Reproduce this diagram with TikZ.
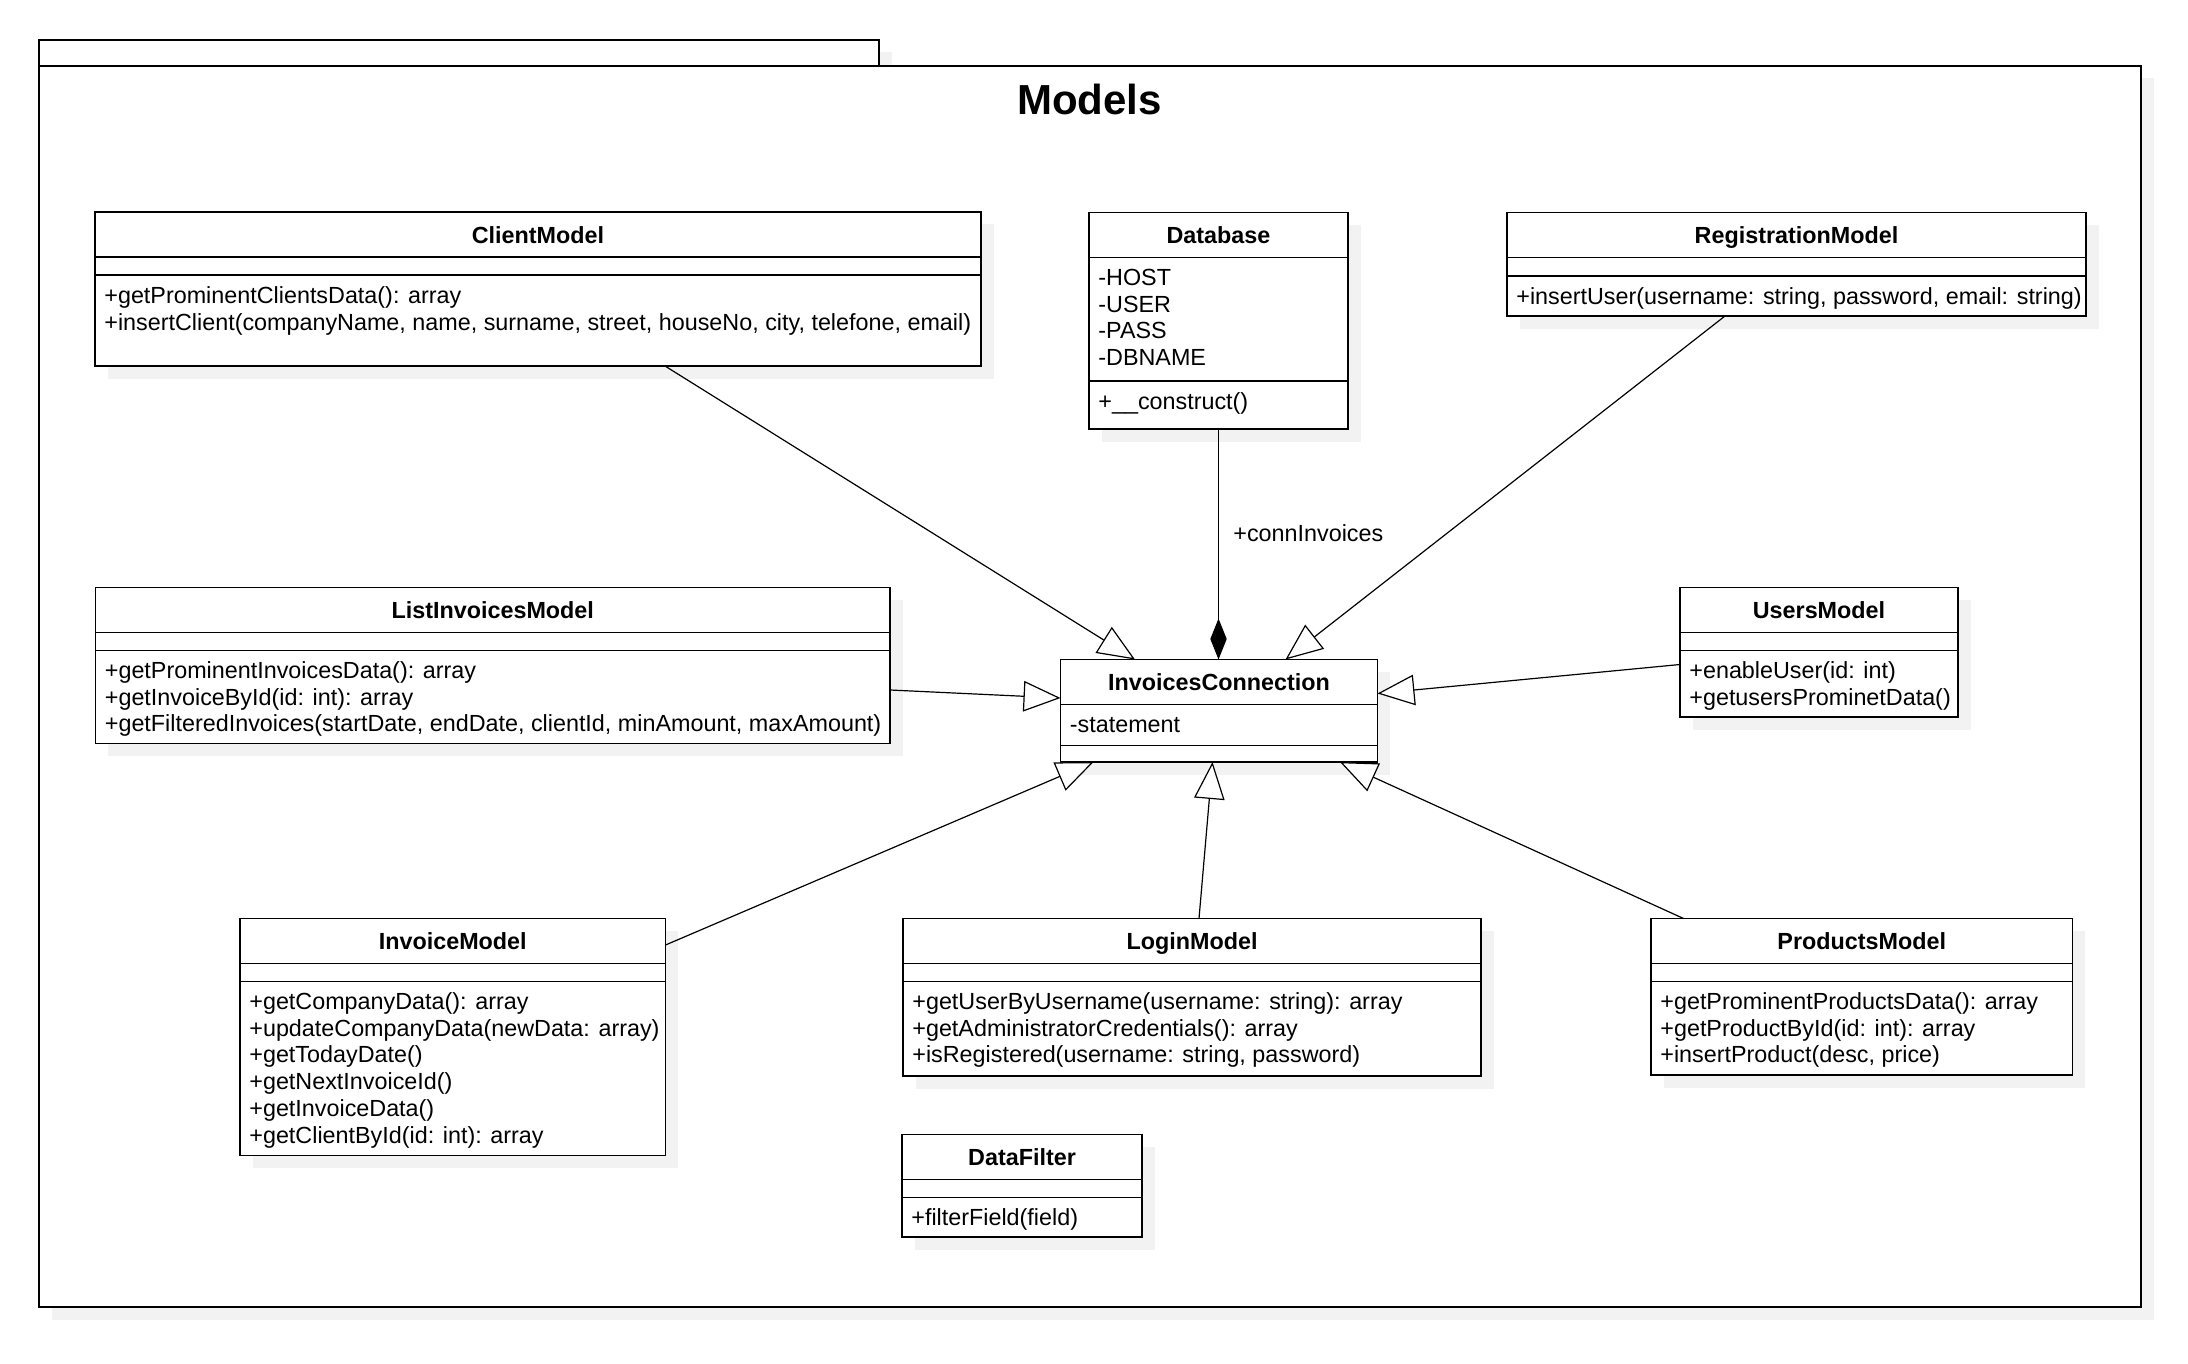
\documentclass[tikz,border=0pt]{standalone}
\usepackage{fontspec}
\setmainfont{Liberation Sans}
\usetikzlibrary{arrows.meta,calc}
\definecolor{shadowgray}{RGB}{242,242,242}

\tikzset{
  frame/.style={draw=black, line width=0.8pt, fill=white, inner sep=0pt, outer sep=0pt, anchor=north west},
  sepline/.style={draw=black, line width=0.8pt},
  cshadow/.style={fill=shadowgray, draw=none},
  ctitle/.style={anchor=base, inner sep=0pt, font=\fontsize{11.67pt}{13.35pt}\selectfont\bfseries},
  cbody/.style={anchor=base west, inner sep=0pt, font=\fontsize{11.67pt}{13.35pt}\selectfont},
  pkgtitle/.style={anchor=base, inner sep=0pt, font=\fontsize{21pt}{25pt}\selectfont\bfseries},
  gen/.style={draw=black, line width=0.6pt, -{Triangle[length=18.5pt, width=15.25pt, fill=white]}},
  comp/.style={draw=black, line width=0.6pt, -{Diamond[length=20.5pt, width=8.2pt]}},
}

% class box: name, x, y, width, height, title, offset of second separator
\newcommand\umlclass[7]{%
  \fill[cshadow] (#2+12.5,#3+12.5) rectangle (#2+#4+12.5,#3+#5+12.5);
  \node[frame, minimum width=#4*0.5pt, minimum height=#5*0.5pt] (#1) at (#2,#3) {};
  \draw[sepline] (#2,#3+45) -- (#2+#4,#3+45);
  \draw[sepline] (#2,#3+#7) -- (#2+#4,#3+#7);
  \node[ctitle] (#1-title) at (#2+#4/2,#3+31) {#6};
}

% member lines: name prefix, box x, first baseline y, list of lines
\newcommand\umllines[4]{%
  \foreach \lineitem [count=\k from 0] in {#4} {
    \node[cbody] (#1\k) at (#2+9,#3+26.7*\k) {\lineitem};
  }
}

\begin{document}
\begin{tikzpicture}[x=0.5pt, y=-0.5pt]
\useasboundingbox (0,0) rectangle (2188,1364);

% package frame with its tab
\fill[cshadow] (51.5,52.5) rectangle (891.5,78.5);
\fill[cshadow] (51.5,78.5) rectangle (2153.5,1319.5);
\node[frame, minimum width=840*0.5pt, minimum height=26*0.5pt] (pkgtab) at (39,40) {};
\node[frame, minimum width=2102*0.5pt, minimum height=1241*0.5pt] (pkg) at (39,66) {};
\node[pkgtitle] (pkgname) at (1089.5,115) {Models};

% classes
\umlclass{cm}{95}{212}{886}{154}{ClientModel}{63}
\umllines{cm-m}{95}{303.5}{{+getProminentClientsData(): array},{+insertClient(companyName, name, surname, street, houseNo, city, telefone, email)}}

\umlclass{db}{1089}{212.5}{259}{216.5}{Database}{168.5}
\umllines{db-a}{1089}{285.5}{{-HOST},{-USER},{-PASS},{-DBNAME}}
\umllines{db-m}{1089}{409}{{+\_\_construct()}}

\umlclass{rm}{1507}{212.5}{579}{103.5}{RegistrationModel}{63.5}
\umllines{rm-m}{1507}{304.5}{{+insertUser(username: string, password, email: string)}}

\umlclass{lim}{95.5}{587.5}{794.5}{156}{ListInvoicesModel}{63}
\umllines{lim-m}{95.5}{678.5}{{+getProminentInvoicesData(): array},{+getInvoiceById(id: int): array},{+getFilteredInvoices(startDate, endDate, clientId, minAmount, maxAmount)}}

\umlclass{ic}{1060.5}{659.5}{317}{102.5}{InvoicesConnection}{86}
\umllines{ic-a}{1060.5}{732.5}{{-statement}}

\umlclass{um}{1680}{587.5}{278}{129.5}{UsersModel}{63}
\umllines{um-m}{1680}{678.5}{{+enableUser(id: int)},{+getusersProminetData()}}

\umlclass{im}{240}{918.5}{425.5}{237}{InvoiceModel}{63}
\umllines{im-m}{240}{1009.5}{{+getCompanyData(): array},{+updateCompanyData(newData: array)},{+getTodayDate()},{+getNextInvoiceId()},{+getInvoiceData()},{+getClientById(id: int): array}}

\umlclass{lm}{903}{918.5}{578}{157.5}{LoginModel}{63}
\umllines{lm-m}{903}{1009.5}{{+getUserByUsername(username: string): array},{+getAdministratorCredentials(): array},{+isRegistered(username: string, password)}}

\umlclass{pm}{1651}{918.5}{421.5}{156.5}{ProductsModel}{63}
\umllines{pm-m}{1651}{1009.5}{{+getProminentProductsData(): array},{+getProductById(id: int): array},{+insertProduct(desc, price)}}

\umlclass{df}{902}{1134.5}{240}{102.5}{DataFilter}{63}
\umllines{df-m}{902}{1225.5}{{+filterField(field)}}

% relations
\draw[gen] ($(cm.south west)+(570,0)$) -- ($(ic.north west)+(74.5,0)$);
\draw[comp] (db.south) -- (db.south |- ic.north);
\node[cbody] (connlabel) at (1233,541) {+connInvoices};
\draw[gen] ($(rm.south west)+(218,0)$) -- ($(ic.north west)+(225,0)$);
\draw[gen] ($(lim.north east)+(0,102.5)$) -- ($(ic.north west)+(0,38.5)$);
\draw[gen] ($(um.north west)+(0,77)$) -- ($(ic.north east)+(0,34)$);
\draw[gen] ($(im.north east)+(0,26.5)$) -- ($(ic.south west)+(33,0)$);
\draw[gen] ($(lm.north west)+(296,0)$) -- ($(ic.south west)+(152,0)$);
\draw[gen] ($(pm.north west)+(32.5,0)$) -- ($(ic.south west)+(279.5,0)$);
\end{tikzpicture}
\end{document}
